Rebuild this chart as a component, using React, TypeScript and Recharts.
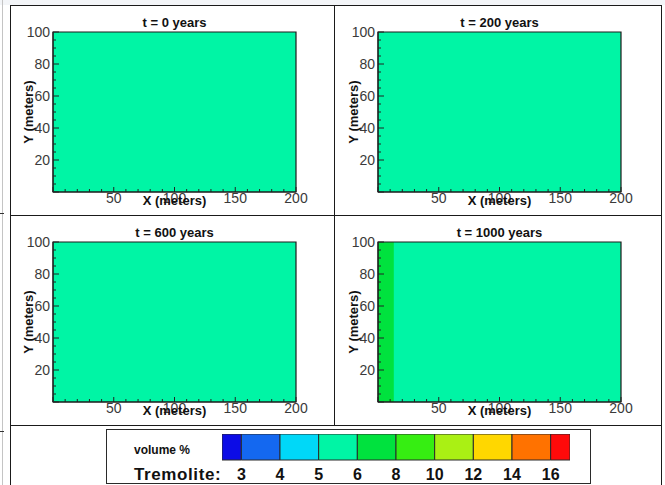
import React from 'react'
import { ComposedChart, XAxis, YAxis, ReferenceArea } from 'recharts'

const FONT = '"Liberation Sans", Arial, Helvetica, sans-serif'

// colour scale for tremolite volume %: bin edges and one fill per bin (below 3 ... above 16)
const legendLevels = [3, 4, 5, 6, 8, 10, 12, 14, 16]
const legendColors = ['#0c0ce6', '#1468f0', '#00d8f8', '#00f5a5', '#00e23e', '#36ee12', '#aaf014', '#ffd700', '#ff7200', '#ff0a0a']

// one snapshot per panel
const panelTitles = ['t = 0 years', 't = 200 years', 't = 600 years', 't = 1000 years']
const hostVolume = [5.5, 5.5, 5.5, 5.5] // vol % in the unreacted rock
const frontVolume = [7, 7, 7, 7] // vol % behind the reaction front
const frontWidth = [0, 0, 0, 13] // metres from the inlet at x = 0

const xTicks = [0, 10, 20, 30, 40, 50, 60, 70, 80, 90, 100, 110, 120, 130, 140, 150, 160, 170, 180, 190, 200]
const yTicks = [0, 5, 10, 15, 20, 25, 30, 35, 40, 45, 50, 55, 60, 65, 70, 75, 80, 85, 90, 95, 100]
const xLabelled = [50, 100, 150, 200]
const yLabelled = [20, 40, 60, 80, 100]

// plot-area origins on the page (left, top)
const panelPos = [
  [53, 32],
  [378, 32],
  [53, 242],
  [378, 242],
]

const PW = 243
const PH = 160
const AXW = 42
const TOP = 27

const colorFor = (v: number) => legendColors[legendLevels.filter(l => l <= v).length]

const XTick = (props: any) => {
  const { x, y, payload } = props
  const v = payload.value
  return (
    <g>
      <line x1={x} x2={x} y1={y} y2={y - (v % 50 === 0 ? 5 : 3)} stroke="#222" />
      {xLabelled.includes(v) && (
        <text x={x} y={y + 11} textAnchor="middle" fontSize={14} fontFamily={FONT} fill="#3a3a3a">{v}</text>
      )}
    </g>
  )
}

const YTick = (props: any) => {
  const { x, y, payload } = props
  const v = payload.value
  return (
    <g>
      <line x1={x} x2={x + (v % 20 === 0 ? 6 : 3)} y1={y} y2={y} stroke="#222" />
      {yLabelled.includes(v) && (
        <text x={x - 3} y={y + 5} textAnchor="end" fontSize={14} fontFamily={FONT} fill="#3a3a3a">{v}</text>
      )}
    </g>
  )
}

const LegendTick = (props: any) => {
  const { x, y, payload } = props
  return (
    <text x={x} y={y + 20} textAnchor="middle" fontSize={16} fontWeight="bold" fontFamily={FONT} fill="#111">
      {legendLevels[payload.value]}
    </text>
  )
}

function Panel({ i }: { i: number }) {
  const [pl, pt] = panelPos[i]
  const zones = [{ x1: 0, x2: 200, v: hostVolume[i] }]
  if (frontWidth[i] > 0) zones.push({ x1: 0, x2: frontWidth[i], v: frontVolume[i] })
  const W = AXW + PW + 30
  const H = TOP + PH + 17
  return (
    <div style={{ position: 'absolute', left: pl - AXW, top: pt - TOP }}>
      <ComposedChart width={W} height={H} data={[]} margin={{ top: TOP, left: 0, right: 30, bottom: 0 }}>
        {zones.map((z, k) => (
          <ReferenceArea key={k} x1={z.x1} x2={z.x2} y1={0} y2={100} fill={colorFor(z.v)} fillOpacity={1} stroke="none" ifOverflow="visible" />
        ))}
        <ReferenceArea x1={0} x2={200} y1={0} y2={100} fill="none" stroke="#1c1c1c" strokeWidth={1.2} ifOverflow="visible" />
        <XAxis type="number" dataKey="x" domain={[0, 200]} ticks={xTicks} interval={0} height={17}
          tickSize={0} tickMargin={0} tickLine={false} axisLine={{ stroke: '#1c1c1c' }} tick={<XTick />} allowDataOverflow />
        <YAxis type="number" dataKey="y" domain={[0, 100]} ticks={yTicks} interval={0} width={AXW}
          tickSize={0} tickMargin={0} tickLine={false} axisLine={{ stroke: '#1c1c1c' }} tick={<YTick />} allowDataOverflow />
      </ComposedChart>
    </div>
  )
}

function ColorBar() {
  const n = legendColors.length
  const cells = legendColors.map((c, k) => ({
    x1: k === 0 ? -0.5 : k - 1,
    x2: k === n - 1 ? legendLevels.length - 0.5 : k,
    c,
  }))
  const idx = legendLevels.map((_, k) => k)
  return (
    <div style={{ position: 'absolute', left: 222, top: 434 }}>
      <ComposedChart width={348} height={50} data={[]} margin={{ top: 0, left: 0, right: 0, bottom: 0 }}>
        {cells.map((cell, k) => (
          <ReferenceArea key={k} x1={cell.x1} x2={cell.x2} y1={0} y2={1} fill={cell.c} fillOpacity={1} stroke="#2a2a2a" strokeWidth={1} ifOverflow="visible" />
        ))}
        <XAxis type="number" dataKey="x" domain={[-0.5, legendLevels.length - 0.5]} ticks={idx} interval={0} height={24}
          tickSize={0} tickMargin={0} tickLine={false} axisLine={false} tick={<LegendTick />} allowDataOverflow />
        <YAxis hide type="number" dataKey="y" domain={[0, 1]} allowDataOverflow />
      </ComposedChart>
    </div>
  )
}

export default function App() {
  const bold = { fontFamily: FONT, fontWeight: 'bold' as const, fill: '#111' }
  return (
    <div style={{ position: 'absolute', left: 0, top: 0, width: 665, height: 485, background: '#fff', overflow: 'hidden' }}>
      {panelTitles.map((_, i) => <Panel key={i} i={i} />)}
      <ColorBar />
      <svg width={665} height={485} style={{ position: 'absolute', left: 0, top: 0, pointerEvents: 'none' }}>
        {/* page frame */}
        <rect x={0} y={0} width={665} height={5} fill="#f3f5f8" />
        <line x1={2.5} x2={2.5} y1={0} y2={485} stroke="#c4c4c4" />
        <line x1={0} x2={4} y1={213.5} y2={213.5} stroke="#333" />
        <line x1={0} x2={4} y1={431.5} y2={431.5} stroke="#333" />
        <line x1={10.5} x2={10.5} y1={5} y2={485} stroke="#1a1a1a" />
        <line x1={10} x2={662} y1={5.5} y2={5.5} stroke="#1a1a1a" />
        <line x1={661.5} x2={661.5} y1={5} y2={485} stroke="#1a1a1a" />
        <line x1={334.5} x2={334.5} y1={5} y2={426} stroke="#1a1a1a" />
        <line x1={10} x2={662} y1={215.5} y2={215.5} stroke="#1a1a1a" />
        <line x1={10} x2={662} y1={425.5} y2={425.5} stroke="#1a1a1a" />

        {panelTitles.map((t, i) => {
          const [pl, pt] = panelPos[i]
          const cx = pl + PW / 2
          return (
            <g key={t}>
              <text x={cx} y={pt - 5} textAnchor="middle" fontSize={13} {...bold}>{t}</text>
              <text x={cx} y={pt + PH + 13} textAnchor="middle" fontSize={13} {...bold}>X (meters)</text>
              <text x={0} y={0} textAnchor="middle" fontSize={13} {...bold}
                transform={`translate(${pl - 20}, ${pt + PH / 2}) rotate(-90)`}>Y (meters)</text>
            </g>
          )
        })}

        {/* colour legend */}
        <rect x={106.5} y={429.5} width={484} height={54} fill="none" stroke="#2a2a2a" />
        <text x={134} y={454} fontSize={12} {...bold}>volume %</text>
        <text x={134} y={480} fontSize={17} letterSpacing={0.6} {...bold}>Tremolite:</text>
      </svg>
    </div>
  )
}
